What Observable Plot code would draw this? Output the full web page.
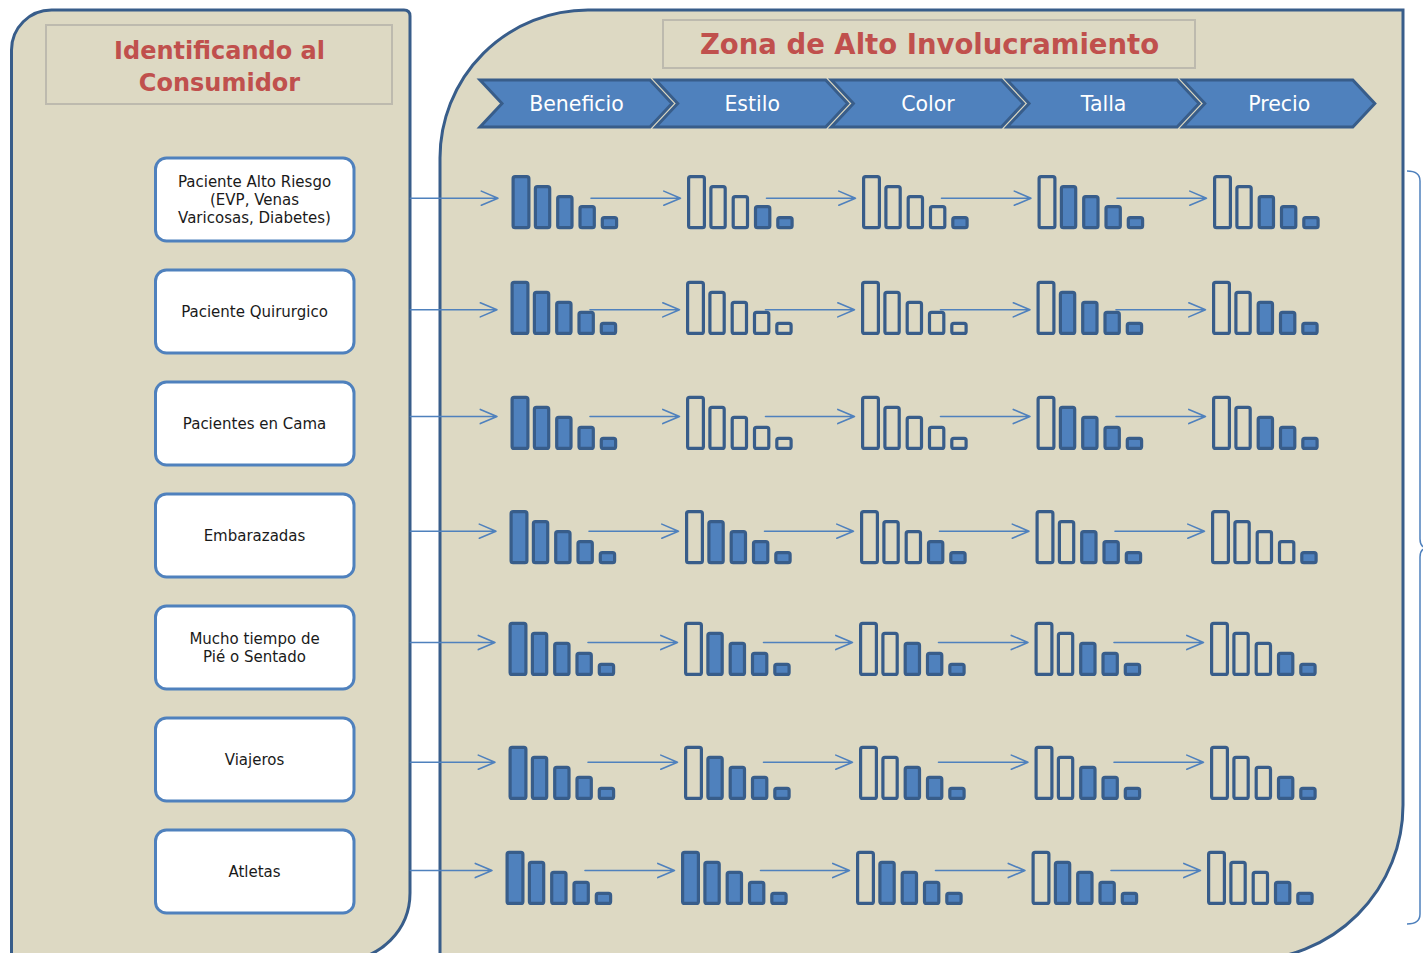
<!DOCTYPE html>
<html><head><meta charset="utf-8">
<script src="https://cdn.jsdelivr.net/npm/d3@7"></script>
<script src="https://cdn.jsdelivr.net/npm/@observablehq/plot@0.6"></script>
<style>html,body{margin:0;padding:0;background:#fff;}</style>
</head><body><div id="chart"></div>
<script>
// ---------------- data ----------------
const leftTitle = "Identificando al\nConsumidor";
const rightTitle = "Zona de Alto Involucramiento";
const consumers = [
  "Paciente Alto Riesgo\n(EVP, Venas\nVaricosas, Diabetes)",
  "Paciente Quirurgico",
  "Pacientes en Cama",
  "Embarazadas",
  "Mucho tiempo de\nPié o Sentado",
  "Viajeros",
  "Atletas"
];
const attributes = ["Beneficio", "Estilo", "Color", "Talla", "Precio"];
const barLevels = [51, 41, 31, 21, 10]; // height of the 5 bars in each mini chart
// 1 = filled bar, 0 = hollow bar; one string per attribute, one list per consumer
const filledPattern = [
  ["11111", "00011", "00001", "01111", "00111"],
  ["11111", "00000", "00000", "01111", "00111"],
  ["11111", "00000", "00000", "01111", "00111"],
  ["11111", "01111", "00011", "00111", "00001"],
  ["11111", "01111", "00111", "00111", "00011"],
  ["11111", "01111", "00111", "00111", "00011"],
  ["11111", "11111", "01111", "01111", "00011"]
];

// ---------------- layout ----------------
const W = 1423, H = 953;
const beige = "#DDD9C3", dark = "#385D8A", blue = "#4F81BD", red = "#C0504D";
const rowBase = [229.3, 335, 450, 564.3, 676, 800, 905];
const rowArrowY = [197.7, 309.3, 416, 530.7, 642, 761.7, 870];
const rowShift = [0, -1, -1, -2, -3, -3, -6];
const groupX0 = [511.5, 687, 862, 1037.5, 1213];
const chevX = [480, 655.7, 831.4, 1007.1, 1182.8];
const boxCY = consumers.map((_, i) => 199.5 + 112 * i);

const bars = [];
consumers.forEach((c, r) => attributes.forEach((a, k) => barLevels.forEach((h, b) => {
  const left = groupX0[k] + rowShift[r] + b * 22.3;
  const w = b === 0 ? 19 : 17.5;
  bars.push({consumer: c, attribute: a, x1: left + 1.6, x2: left + w - 1.6,
    y1: rowBase[r] - 1.6, y2: rowBase[r] - 1.6 - h,
    filled: filledPattern[r][k][b] === "1"});
})));

const arrows = [];
consumers.forEach((c, r) => {
  const y = rowArrowY[r];
  arrows.push({x1: 410, x2: groupX0[0] + rowShift[r] - 14, y});
  for (let k = 0; k < attributes.length - 1; k++) {
    arrows.push({x1: groupX0[k] + rowShift[r] + 79, x2: groupX0[k + 1] + rowShift[r] - 7, y});
  }
});

const boxes = consumers.map((c, i) => ({text: c, y1: boxCY[i] - 41.5, y2: boxCY[i] + 41.5}));

function decorations(index, scales) {
  const sx = v => (scales && scales.x ? scales.x(v) : v);
  const sy = v => (scales && scales.y ? scales.y(v) : v);
  const g = d3.create("svg:g");
  // left panel
  g.append("path")
    .attr("d", `M${sx(11.5)},${sy(965)} L${sx(11.5)},${sy(50)} A40,40 0 0 1 ${sx(51.5)},${sy(10)} L${sx(404)},${sy(10)} Q${sx(410)},${sy(10)} ${sx(410)},${sy(16)} L${sx(410)},${sy(893)} A67,67 0 0 1 ${sx(343)},${sy(960)} L${sx(11.5)},${sy(960)} Z`)
    .attr("fill", beige).attr("stroke", dark).attr("stroke-width", 3);
  // right panel
  g.append("path")
    .attr("d", `M${sx(440)},${sy(965)} L${sx(440)},${sy(158)} A148,148 0 0 1 ${sx(588)},${sy(10)} L${sx(1403)},${sy(10)} L${sx(1403)},${sy(805)} A155,155 0 0 1 ${sx(1248)},${sy(960)} L${sx(440)},${sy(960)} Z`)
    .attr("fill", beige).attr("stroke", dark).attr("stroke-width", 3);
  // title boxes
  g.append("rect").attr("x", sx(46)).attr("y", sy(25)).attr("width", 346).attr("height", 79)
    .attr("fill", "none").attr("stroke", "#BDBAAE").attr("stroke-width", 2);
  g.append("rect").attr("x", sx(663)).attr("y", sy(20)).attr("width", 532).attr("height", 48)
    .attr("fill", "none").attr("stroke", "#BDBAAE").attr("stroke-width", 2);
  // chevrons
  chevX.forEach(x0 => {
    const pts = [[x0, 80], [x0 + 170, 80], [x0 + 192, 103.5], [x0 + 170, 127], [x0, 127], [x0 + 22, 103.5]];
    g.append("path").attr("d", "M" + pts.map(p => `${sx(p[0])},${sy(p[1])}`).join("L") + "Z")
      .attr("fill", blue).attr("stroke", dark).attr("stroke-width", 3).attr("stroke-linejoin", "miter");
  });
  // brace at right edge
  g.append("path")
    .attr("d", `M${sx(1407)},${sy(171)} Q${sx(1420)},${sy(171)} ${sx(1420)},${sy(181)} L${sx(1420)},${sy(539)} Q${sx(1420)},${sy(548)} ${sx(1428)},${sy(548)} Q${sx(1420)},${sy(548)} ${sx(1420)},${sy(557)} L${sx(1420)},${sy(914)} Q${sx(1420)},${sy(924)} ${sx(1407)},${sy(924)}`)
    .attr("fill", "none").attr("stroke", blue).attr("stroke-width", 1.5);
  return g.node();
}

const font = "DejaVu Sans, Verdana, sans-serif";

const chart = Plot.plot({
  width: W, height: H,
  margin: 0,
  x: {domain: [0, W], range: [0, W], axis: null},
  y: {domain: [0, H], range: [0, H], axis: null},
  style: {background: "white", fontFamily: font},
  marks: [
    decorations,
    Plot.rect(boxes, {x1: 155.5, x2: 354, y1: "y1", y2: "y2", rx: 11,
      fill: "white", stroke: blue, strokeWidth: 3}),
    Plot.arrow(arrows, {x1: "x1", y1: "y", x2: "x2", y2: "y", bend: 0,
      stroke: blue, strokeWidth: 1.6, headLength: 17, headAngle: 46}),
    Plot.rect(bars, {x1: "x1", x2: "x2", y1: "y1", y2: "y2", rx: 2,
      fill: d => d.filled ? blue : beige, stroke: dark, strokeWidth: 3.2}),
    Plot.text([leftTitle], {x: 219, y: 64.5, text: d => d, fontSize: 24, fontWeight: "bold",
      fill: red, lineHeight: 1.33}),
    Plot.text([rightTitle], {x: 929, y: 45, text: d => d, fontSize: 27.5, fontWeight: "bold", fill: red}),
    Plot.text(attributes, {x: (d, i) => chevX[i] + 96, y: 104, text: d => d, fontSize: 20.5, fill: "white"}),
    Plot.text(boxes, {x: 254, y: d => (d.y1 + d.y2) / 2 - 1, text: "text", fontSize: 15,
      fill: "#1a1a1a", lineHeight: 1.2})
  ]
});
document.getElementById("chart").appendChild(chart);
</script>
</body></html>
